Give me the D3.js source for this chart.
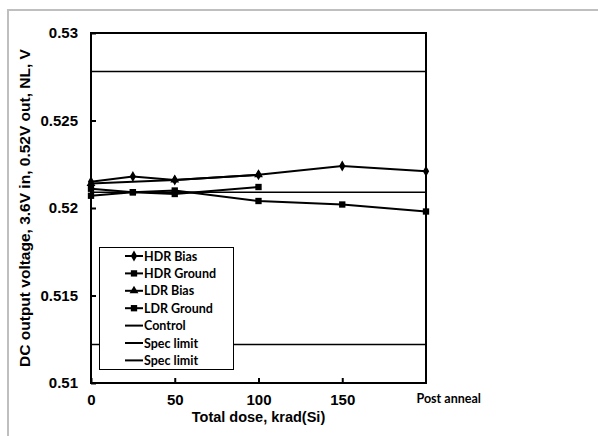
<!DOCTYPE html>
<html><head><meta charset="utf-8">
<script src="https://cdn.jsdelivr.net/npm/d3@7"></script>
<style>body{margin:0;background:#fff}svg{display:block}</style>
</head><body><svg id="c" width="598" height="436"></svg>
<script>
const xTicks = [0, 50, 100, 150, 200];
const xTickLabels = ["0", "50", "100", "150", "Post anneal"];
const yTicks = [0.51, 0.515, 0.52, 0.525, 0.53];
const yTickLabels = ["0.51", "0.515", "0.52", "0.525", "0.53"];

const hdrBiasX = [0, 25, 50, 100, 150, 200];
const hdrBiasY = [0.5215, 0.5218, 0.5216, 0.5219, 0.5224, 0.5221];
const hdrGroundX = [0, 25, 50, 100, 150, 200];
const hdrGroundY = [0.5211, 0.5209, 0.5210, 0.5204, 0.5202, 0.5198];
const ldrBiasX = [0, 50, 100];
const ldrBiasY = [0.5214, 0.5216, 0.5219];
const ldrGroundX = [0, 25, 50, 100];
const ldrGroundY = [0.5207, 0.5209, 0.5208, 0.5212];
const controlX = [0, 200];
const controlY = [0.5209, 0.5209];
const specHiX = [0, 200];
const specHiY = [0.5278, 0.5278];
const specLoX = [0, 200];
const specLoY = [0.5122, 0.5122];

const seriesNames = ["HDR Bias", "HDR Ground", "LDR Bias", "LDR Ground", "Control", "Spec limit", "Spec limit"];
const series = [
  {name: seriesNames[0], xs: hdrBiasX, ys: hdrBiasY, marker: "diamond"},
  {name: seriesNames[1], xs: hdrGroundX, ys: hdrGroundY, marker: "square"},
  {name: seriesNames[2], xs: ldrBiasX, ys: ldrBiasY, marker: "triangle"},
  {name: seriesNames[3], xs: ldrGroundX, ys: ldrGroundY, marker: "square"},
  {name: seriesNames[4], xs: controlX, ys: controlY, marker: null},
  {name: seriesNames[5], xs: specHiX, ys: specHiY, marker: null},
  {name: seriesNames[6], xs: specLoX, ys: specLoY, marker: null}
];

const svg = d3.select("#c");
const L = 91, R = 426, T = 33, B = 383;
const x = d3.scaleLinear().domain([0, 200]).range([L, R]);
const y = d3.scaleLinear().domain([0.51, 0.53]).range([B, T]);

// outer gray frame
svg.append("rect").attr("x", 8).attr("y", 10).attr("width", 600).attr("height", 440)
  .attr("fill", "none").attr("stroke", "#bfbfbf").attr("stroke-width", 2);

const sym = {
  diamond: d3.symbol().type(d3.symbolDiamond).size(34),
  square: d3.symbol().type(d3.symbolSquare).size(40),
  triangle: d3.symbol().type(d3.symbolTriangle).size(34)
};

const line = d3.line().x(d => x(d[0])).y(d => y(d[1]));
series.forEach(s => {
  const pts = s.xs.map((v, i) => [v, s.ys[i]]);
  svg.append("path").attr("d", line(pts)).attr("fill", "none")
    .attr("stroke", "#000").attr("stroke-width", s.marker ? 2 : 1.6);
  if (s.marker) {
    svg.selectAll(null).data(pts).enter().append("path")
      .attr("d", sym[s.marker]).attr("transform", d => `translate(${x(d[0])},${y(d[1])})`)
      .attr("fill", "#000");
  }
});

// axes
const fontAx = "'Liberation Sans', Arial, sans-serif";
const ya = svg.append("g").attr("transform", `translate(${L},0)`)
  .call(d3.axisLeft(y).tickValues(yTicks).tickFormat((d, i) => yTickLabels[i]).tickSizeInner(-5).tickSizeOuter(0).tickPadding(13));
const xa = svg.append("g").attr("transform", `translate(0,${B})`)
  .call(d3.axisBottom(x).tickValues(xTicks).tickFormat((d, i) => xTickLabels[i]).tickSizeInner(-5).tickSizeOuter(0).tickPadding(11));
[ya, xa].forEach(g => {
  g.select(".domain").remove();
  g.selectAll(".tick line").attr("stroke", "#000").attr("stroke-width", 2);
  g.selectAll("text").attr("fill", "#000").style("font-family", fontAx).style("font-weight", "bold").style("font-size", "15px");
});
xa.selectAll(".tick text").filter((d, i) => i === 4)
  .style("font-family", "Lato, 'Open Sans', sans-serif").style("font-size", "12.5px")
  .attr("text-anchor", "start").attr("dx", -10);
xa.selectAll(".tick").filter((d, i) => i === 4).select("line").remove();

// plot frame
svg.append("rect").attr("x", L).attr("y", T).attr("width", R - L).attr("height", B - T)
  .attr("fill", "none").attr("stroke", "#000").attr("stroke-width", 2);

// titles
svg.append("text").attr("x", (L + R) / 2).attr("y", 422).attr("text-anchor", "middle")
  .style("font-family", fontAx).style("font-weight", "bold").style("font-size", "14.5px")
  .text("Total dose, krad(Si)");
svg.append("text").attr("transform", `translate(30,${(T + B) / 2}) rotate(-90)`).attr("text-anchor", "middle")
  .style("font-family", fontAx).style("font-weight", "bold").style("font-size", "15.5px")
  .text("DC output voltage, 3.6V in, 0.52V out, NL, V");

// legend
const lg = svg.append("g");
lg.append("rect").attr("x", 99.5).attr("y", 247.5).attr("width", 134).attr("height", 122)
  .attr("fill", "#fff").attr("stroke", "#000").attr("stroke-width", 1);
series.forEach((s, i) => {
  const yy = 256 + i * 17.4;
  lg.append("line").attr("x1", 125).attr("x2", 143).attr("y1", yy).attr("y2", yy)
    .attr("stroke", "#000").attr("stroke-width", 2);
  if (s.marker) lg.append("path").attr("d", sym[s.marker]).attr("transform", `translate(134,${yy})`).attr("fill", "#000");
  lg.append("text").attr("x", 144).attr("y", yy + 4.5).text(s.name)
    .style("font-family", "Lato, 'Open Sans', sans-serif").style("font-weight", "bold").style("font-size", "12.5px");
});
</script></body></html>
